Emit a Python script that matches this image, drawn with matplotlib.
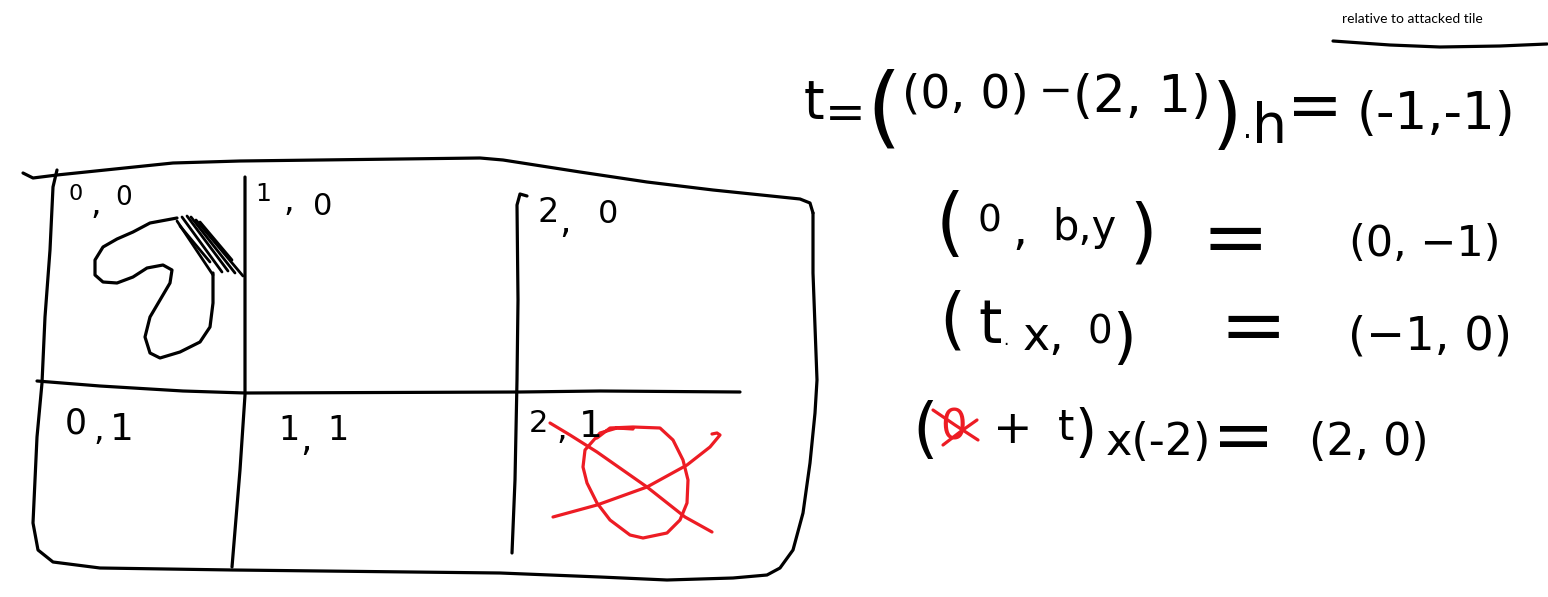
import numpy as np
import matplotlib
matplotlib.use("Agg")
import matplotlib.pyplot as plt

# paint canvas size in px, y axis goes down like in the sketch
W, H = 1548, 597
INK = "black"
RED = "#ed1c24"

# --- strokes of the tile sketch (canvas px) ---
frame_top = [(23, 173), (33, 178), (57, 175), (173, 163), (240, 161), (480, 158),
             (503, 160), (580, 172), (647, 182), (713, 190), (800, 199), (810, 203), (813, 213)]
frame_rest = [(813, 213), (813, 273), (817, 380), (815, 413), (810, 463), (803, 513),
              (793, 550), (780, 568), (767, 575), (733, 578), (667, 580), (600, 577),
              (500, 573), (233, 570), (100, 568), (53, 562), (38, 550), (33, 523),
              (37, 437), (42, 383), (45, 317), (50, 250), (53, 187), (57, 170)]
mid_line = [(37, 381), (100, 386), (183, 391), (245, 393), (520, 392), (600, 391), (740, 392)]
col_line_1 = [(245, 177), (245, 300), (245, 395), (240, 470), (232, 567)]
col_line_2 = [(527, 196), (520, 194), (517, 205), (518, 300), (517, 380), (515, 480), (512, 553)]
blob = [(177, 218), (150, 223), (133, 232), (117, 239), (103, 247), (95, 260), (95, 275),
        (103, 282), (117, 283), (133, 277), (147, 268), (163, 265), (172, 270), (170, 283),
        (160, 300), (150, 317), (145, 337), (150, 353), (160, 358), (180, 352), (200, 342),
        (210, 327), (213, 303), (213, 273)]
hatch = [[(177, 221), (213, 275)], [(182, 217), (222, 272)], [(187, 216), (228, 271)],
         [(191, 217), (235, 273)], [(196, 220), (243, 276)], [(180, 226), (210, 262)],
         [(200, 222), (232, 260)]]
overline = [(1333, 41), (1390, 45), (1440, 47), (1500, 46), (1547, 44)]

# red marks
red_circle = [(597, 438), (610, 428), (633, 427), (660, 428), (673, 440), (683, 460),
              (688, 480), (687, 503), (680, 520), (667, 533), (643, 538), (630, 535),
              (610, 520), (597, 503), (587, 483), (583, 467), (585, 450), (592, 442),
              (600, 433), (617, 428), (633, 429)]
red_cross_a = [(550, 423), (570, 435), (597, 452), (647, 487), (685, 517), (712, 532)]
red_cross_b = [(553, 517), (597, 505), (647, 487), (687, 465), (710, 447), (720, 435),
               (717, 433), (712, 434)]
red_scratch_a = [(933, 410), (955, 425), (978, 440)]
red_scratch_b = [(943, 445), (960, 432), (977, 420)]

# --- handwritten text pieces: (text, x_left, baseline, size in pt) ---
cell_labels = [
    ("0", 68, 200, 16), (",", 90, 214, 24), ("0", 115, 205, 19),
    ("1", 255, 201, 18), (",", 283, 211, 24), ("0", 313, 215, 22),
    ("2", 537, 222, 24), (",", 559, 233, 26), ("0", 598, 223, 23),
    ("0", 65, 433, 25), (",", 93, 440, 24), ("1", 110, 440, 27),
    ("1", 278, 440, 24), (",", 300, 451, 26), ("1", 327, 440, 24),
    ("2", 529, 432, 22), (",", 556, 439, 24), ("1", 579, 437, 27),
]
eq_row1 = [
    ("t", 804, 118, 38), ("=", 825, 129, 35), ("(", 866, 136, 64), ("(0, 0)", 901, 108, 34),
    ("\u2212", 1039, 103, 29), ("(2, 1)", 1073, 112, 37), (")", 1211.5, 140, 56),
    (".", 1242, 138, 20), ("h", 1251, 143, 40), ("=", 1286.5, 128, 48),
    ("(-1,-1)", 1357, 129, 37),
]
eq_row2 = [
    ("(", 936, 247, 53), ("0", 977, 232, 27), (",", 1012, 245, 34), ("b,y", 1052, 240, 30),
    (")", 1129, 254, 51), ("=", 1202, 264, 58), ("(0, \u22121)", 1348.7, 256, 31),
]
eq_row3 = [
    ("(", 939, 341, 48), ("t", 978, 343, 43), (".", 1003, 345, 12), ("x,", 1023, 350, 33),
    ("0", 1087, 343, 28), (")", 1112, 357, 44), ("=", 1219, 352, 58),
    ("(\u22121, 0)", 1348, 350, 33.5),
]
eq_row4 = [
    ("(", 912, 450, 47), ("+", 993, 443, 34), ("t", 1058, 440, 30), (")", 1074.5, 450, 41),
    ("x(-2)", 1106, 455, 32), ("=", 1212, 460, 54), ("(2, 0)", 1308.6, 455, 32),
]
eq_row4_red = [("0", 940, 440, 30)]
note_text = "relative to attacked tile"


def stroke(ax, pts, color=INK, lw=2.3):
    a = np.array(pts, dtype=float)
    ax.plot(a[:, 0], a[:, 1], color=color, lw=lw,
            solid_capstyle="round", solid_joinstyle="round")


def write(ax, pieces, color=INK):
    out = []
    for s, x, y, size in pieces:
        out.append(ax.text(x, y, s, fontsize=size, color=color, ha="left",
                           va="baseline", family="DejaVu Sans"))
    return out


def unclash(fig, texts):
    # push a piece right when its box runs into an earlier one of the same row
    r = fig.canvas.get_renderer()
    done = []
    for t in texts:
        bb = t.get_window_extent(r)
        dx = 0
        for p in done:
            if bb.y0 < p.y1 and bb.y1 > p.y0 and bb.x0 < p.x1 + 0.5 and bb.x1 > p.x0:
                dx = max(dx, p.x1 + 0.5 - bb.x0)
        if dx > 0:
            x, y = t.get_position()
            t.set_position((x + dx, y))
            bb = t.get_window_extent(r)
        done.append(bb)


fig = plt.figure(figsize=(W / 100, H / 100), dpi=100)
ax = fig.add_axes([0, 0, 1, 1])
ax.set_xlim(0, W)
ax.set_ylim(H, 0)
ax.axis("off")

for pts in [frame_top, frame_rest, mid_line, col_line_1, col_line_2, blob, overline]:
    stroke(ax, pts)
for seg in hatch:
    stroke(ax, seg, lw=2.0)
for pts in [red_circle, red_cross_a, red_cross_b, red_scratch_a, red_scratch_b]:
    stroke(ax, pts, color=RED)

rows = [write(ax, cell_labels)]
for row in [eq_row1, eq_row2, eq_row3, eq_row4]:
    rows.append(write(ax, row))
write(ax, eq_row4_red, color=RED)

ax.text(1412, 19, note_text, fontsize=10, family="Lato", ha="center", va="center", color=INK)

fig.canvas.draw()
for texts in rows[1:]:
    unclash(fig, texts)

fig.savefig("out.png", dpi=100)
